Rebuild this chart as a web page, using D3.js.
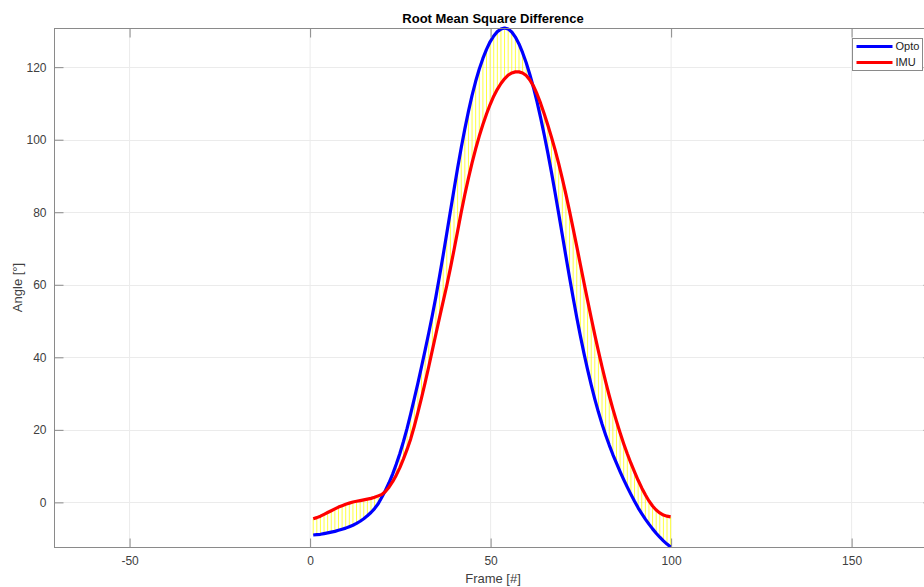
<!DOCTYPE html>
<html>
<head>
<meta charset="utf-8">
<script src="https://cdn.jsdelivr.net/npm/d3@7"></script>
<style>
  html, body { margin: 0; padding: 0; background: #fff; }
  svg { display: block; font-family: "Liberation Sans", Arial, Helvetica, sans-serif; }
</style>
</head>
<body>
<svg id="chart" width="924" height="587"></svg>
<script>
// Knee angle per frame: optical reference vs. IMU estimate
const frames = d3.range(1, 101);

const opto = [
  -9.0, -8.9, -8.8, -8.6, -8.4, -8.2, -8.0, -7.7, -7.4, -7.1,
  -6.7, -6.3, -5.8, -5.2, -4.5, -3.7, -2.8, -1.7, -0.4, 1.4,
  3.3, 5.4, 7.8, 10.5, 13.5, 16.8, 20.4, 24.4, 28.6, 32.9,
  37.4, 42.0, 46.7, 51.6, 56.8, 62.4, 68.2, 74.2, 80.3, 86.3,
  92.2, 97.8, 103.0, 107.8, 112.2, 116.1, 119.5, 122.4, 124.9, 127.0,
  128.6, 129.8, 130.5, 130.8, 130.5, 129.7, 128.3, 126.4, 124.0, 121.2,
  118.0, 114.4, 110.4, 106.0, 101.3, 96.3, 91.0, 85.4, 79.6, 73.7,
  67.8, 62.0, 56.4, 51.0, 45.9, 41.1, 36.6, 32.4, 28.5, 24.9,
  21.6, 18.6, 15.8, 13.2, 10.8, 8.5, 6.3, 4.2, 2.2, 0.3,
  -1.5, -3.1, -4.6, -6.0, -7.3, -8.5, -9.6, -10.6, -11.5, -12.3
];

const imu = [
  -4.5, -4.2, -3.8, -3.3, -2.8, -2.3, -1.8, -1.3, -0.9, -0.5,
  -0.2, 0.1, 0.3, 0.5, 0.7, 0.9, 1.1, 1.4, 1.8, 2.2,
  3.0, 4.2, 5.7, 7.5, 9.6, 12.0, 14.6, 17.5, 21.0, 24.8,
  28.8, 33.0, 37.4, 42.0, 46.5, 51.0, 55.4, 59.8, 64.6, 69.6,
  74.8, 80.0, 84.9, 89.4, 93.6, 97.5, 101.0, 104.2, 107.1, 109.7,
  112.0, 113.9, 115.5, 116.8, 117.8, 118.4, 118.7, 118.7, 118.4, 117.7,
  116.5, 114.8, 112.6, 110.0, 107.1, 104.0, 100.7, 97.2, 93.4, 89.3,
  84.9, 80.3, 75.5, 70.6, 65.6, 60.6, 55.7, 50.9, 46.2, 41.7,
  37.4, 33.3, 29.4, 25.8, 22.4, 19.2, 16.2, 13.4, 10.8, 8.4,
  6.1, 4.0, 2.1, 0.4, -1.0, -2.1, -2.9, -3.5, -3.8, -4.0
];

const xTicks = [-50, 0, 50, 100, 150];
const yTicks = [0, 20, 40, 60, 80, 100, 120];
const xLimits = [-70.8, 172.4];
const yLimits = [-12.3, 130.8];

const seriesNames = ["Opto", "IMU"];
const seriesColors = ["#0000ff", "#ff0000"];

const titleText = "Root Mean Square Difference";
const xLabelText = "Frame [#]";
const yLabelText = "Angle [°]";

// Layout
const plot = { left: 54, top: 28, right: 932, bottom: 547 };
const axisColor = "#8a8a8a";
const textColor = "#404040";
const gridColor = "#ebebeb";
const tickLen = 9;

const svg = d3.select("#chart");

const x = d3.scaleLinear().domain(xLimits).range([plot.left, plot.right]);
const y = d3.scaleLinear().domain(yLimits).range([plot.bottom, plot.top]);

// Grid
const grid = svg.append("g");
grid.selectAll("line.gx").data(xTicks).join("line")
  .attr("x1", d => x(d) + 0.5).attr("x2", d => x(d) + 0.5)
  .attr("y1", plot.top).attr("y2", plot.bottom)
  .attr("stroke", gridColor).attr("stroke-width", 1);
grid.selectAll("line.gy").data(yTicks).join("line")
  .attr("x1", plot.left).attr("x2", plot.right)
  .attr("y1", d => Math.round(y(d)) + 0.5).attr("y2", d => Math.round(y(d)) + 0.5)
  .attr("stroke", gridColor).attr("stroke-width", 1);

// Difference bars between the two series at every frame
svg.append("clipPath").attr("id", "plotClip")
  .append("rect")
  .attr("x", plot.left).attr("y", plot.top - 2)
  .attr("width", plot.right - plot.left).attr("height", plot.bottom - plot.top + 4);

const data = frames.map((f, i) => ({ f, opto: opto[i], imu: imu[i] }));

const marks = svg.append("g").attr("clip-path", "url(#plotClip)");

marks.selectAll("line.diff").data(data).join("line")
  .attr("x1", d => x(d.f)).attr("x2", d => x(d.f))
  .attr("y1", d => y(d.opto)).attr("y2", d => y(d.imu))
  .attr("stroke", "#ffff00").attr("stroke-opacity", 0.75).attr("stroke-width", 1);

const line = key => d3.line().x(d => x(d.f)).y(d => y(d[key]));

marks.append("path").datum(data)
  .attr("d", line("opto"))
  .attr("fill", "none").attr("stroke", seriesColors[0])
  .attr("stroke-width", 3.2).attr("stroke-linejoin", "round");

marks.append("path").datum(data)
  .attr("d", line("imu"))
  .attr("fill", "none").attr("stroke", seriesColors[1])
  .attr("stroke-width", 3.2).attr("stroke-linejoin", "round");

// Axes box
const frame = svg.append("g");
frame.append("rect")
  .attr("x", plot.left + 0.5).attr("y", plot.top + 0.5)
  .attr("width", plot.right - plot.left).attr("height", plot.bottom - plot.top)
  .attr("fill", "none").attr("stroke", axisColor).attr("stroke-width", 1);

// Inward ticks on all four sides
const fmt = d => d < 0 ? "-" + Math.abs(d) : String(d);
const bottomAxis = d3.axisBottom(x).tickValues(xTicks).tickSizeInner(-tickLen).tickSizeOuter(0).tickPadding(9).tickFormat(fmt);
const topAxis = d3.axisTop(x).tickValues(xTicks).tickSizeInner(-tickLen).tickSizeOuter(0).tickFormat("");
const leftAxis = d3.axisLeft(y).tickValues(yTicks).tickSizeInner(-tickLen).tickSizeOuter(0).tickPadding(8).tickFormat(fmt);
const rightAxis = d3.axisRight(y).tickValues(yTicks).tickSizeInner(-tickLen).tickSizeOuter(0).tickFormat("");

function styleAxis(g) {
  g.select(".domain").remove();
  g.selectAll(".tick line").attr("stroke", axisColor);
  g.selectAll(".tick text").attr("fill", textColor).attr("font-size", 12)
    .attr("font-family", "'Liberation Sans', Arial, sans-serif");
}

svg.append("g").attr("transform", `translate(0.5,${plot.bottom + 0.5})`).call(bottomAxis).call(styleAxis);
svg.append("g").attr("transform", `translate(0.5,${plot.top + 0.5})`).call(topAxis).call(styleAxis);
svg.append("g").attr("transform", `translate(${plot.left + 0.5},0)`).call(leftAxis).call(styleAxis);
svg.append("g").attr("transform", `translate(${plot.right + 0.5},0)`).call(rightAxis).call(styleAxis);

// Title and axis labels
const cx = (plot.left + plot.right) / 2;
svg.append("text")
  .attr("x", cx).attr("y", 23)
  .attr("text-anchor", "middle").attr("font-size", 13).attr("font-weight", "bold")
  .attr("fill", "#000").text(titleText);

svg.append("text")
  .attr("x", cx).attr("y", 583)
  .attr("text-anchor", "middle").attr("font-size", 13)
  .attr("fill", textColor).text(xLabelText);

svg.append("text")
  .attr("transform", `translate(22,${(plot.top + plot.bottom) / 2}) rotate(-90)`)
  .attr("text-anchor", "middle").attr("font-size", 13)
  .attr("fill", textColor).text(yLabelText);

// Legend (north-east, inside the axes)
const legend = svg.append("g").attr("transform", "translate(852.5,38.5)");
legend.append("rect")
  .attr("width", 70).attr("height", 32)
  .attr("fill", "#fff").attr("stroke", axisColor).attr("stroke-width", 1);

const items = legend.selectAll("g.item").data(seriesNames).join("g")
  .attr("transform", (d, i) => `translate(0,${8 + i * 16})`);
items.append("line")
  .attr("x1", 4).attr("x2", 40).attr("y1", 0).attr("y2", 0)
  .attr("stroke", (d, i) => seriesColors[i]).attr("stroke-width", 3.2);
items.append("text")
  .attr("x", 43).attr("y", 0).attr("dy", "0.35em")
  .attr("font-size", 11).attr("fill", "#222").text(d => d);
</script>
</body>
</html>
